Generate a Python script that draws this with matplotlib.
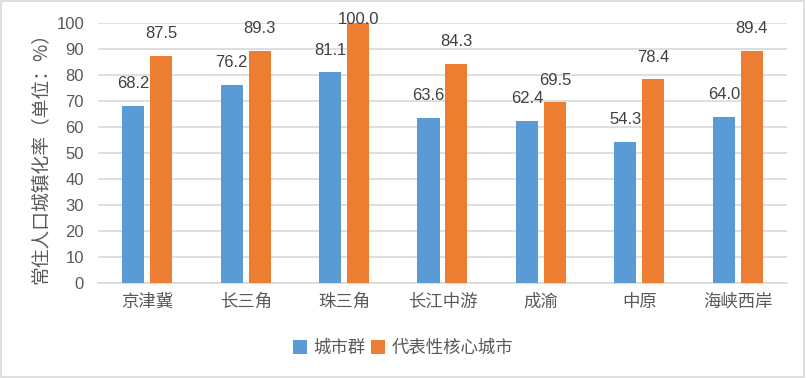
import matplotlib
matplotlib.use("Agg")
import matplotlib.pyplot as plt
import numpy as np

plt.rcParams['font.family'] = ['Noto Sans CJK SC', 'DejaVu Sans']

categories = ['京津冀', '长三角', '珠三角', '长江中游', '成渝', '中原', '海峡西岸']
cluster = [68.2, 76.2, 81.1, 63.6, 62.4, 54.3, 64.0]
core_city = [87.5, 89.3, 100.0, 84.3, 69.5, 78.4, 89.4]

blue = '#5b9bd5'
orange = '#ed7d31'
grey = '#595959'

fig = plt.figure(figsize=(8.06, 3.78), dpi=100)
ax = fig.add_axes([0.1216, 0.2513, 0.8548, 0.6877])

x = np.arange(len(categories))
w = 0.224
b1 = ax.bar(x - 0.142, cluster, w, color=blue, label='城市群', zorder=3)
b2 = ax.bar(x + 0.142, core_city, w, color=orange, label='代表性核心城市', zorder=3)

# data labels sit well above the bars, like the excel original
for bars, vals in ((b1, cluster), (b2, core_city)):
    for r, v in zip(bars, vals):
        yy = min(v + 8.5, 101.5)
        ax.text(r.get_x() + r.get_width() / 2, yy, f'{v:.1f}', ha='center', va='center',
                fontsize=12, color='#404040', family=['Liberation Sans'], zorder=4)

ax.set_xlim(-0.5, len(categories) - 0.5)
ax.set_ylim(0, 100)
ax.set_yticks(range(0, 101, 10))
ax.grid(axis='y', color='#d9d9d9', linewidth=1.2, zorder=0)
for s in ax.spines.values():
    s.set_visible(False)
ax.spines['bottom'].set_visible(True)
ax.spines['bottom'].set_color('#d9d9d9')
ax.spines['bottom'].set_linewidth(1.2)
ax.tick_params(axis='both', length=0, colors=grey)
ax.tick_params(axis='y', pad=10, labelsize=12)
ax.tick_params(axis='x', pad=7, labelsize=12.5)
ax.set_xticks(x)
ax.set_xticklabels(categories)
for t in ax.get_yticklabels():
    t.set_family(['Liberation Sans'])
ax.set_ylabel('常住人口城镇化率（单位：%）', color=grey, fontsize=13.5, labelpad=4)

fig.legend(handles=[b1, b2], loc='center', bbox_to_anchor=(0.5, 0.079), ncol=2, frameon=False,
           fontsize=12.5, handlelength=0.8, handleheight=0.8, handletextpad=0.4, columnspacing=0.3,
           labelcolor=grey)

fig.patches.append(plt.Rectangle((0.001, 0.002), 0.997, 0.995, transform=fig.transFigure,
                                 fill=False, edgecolor='#d9d9d9', linewidth=1.2))

fig.savefig('out.png', dpi=100)
